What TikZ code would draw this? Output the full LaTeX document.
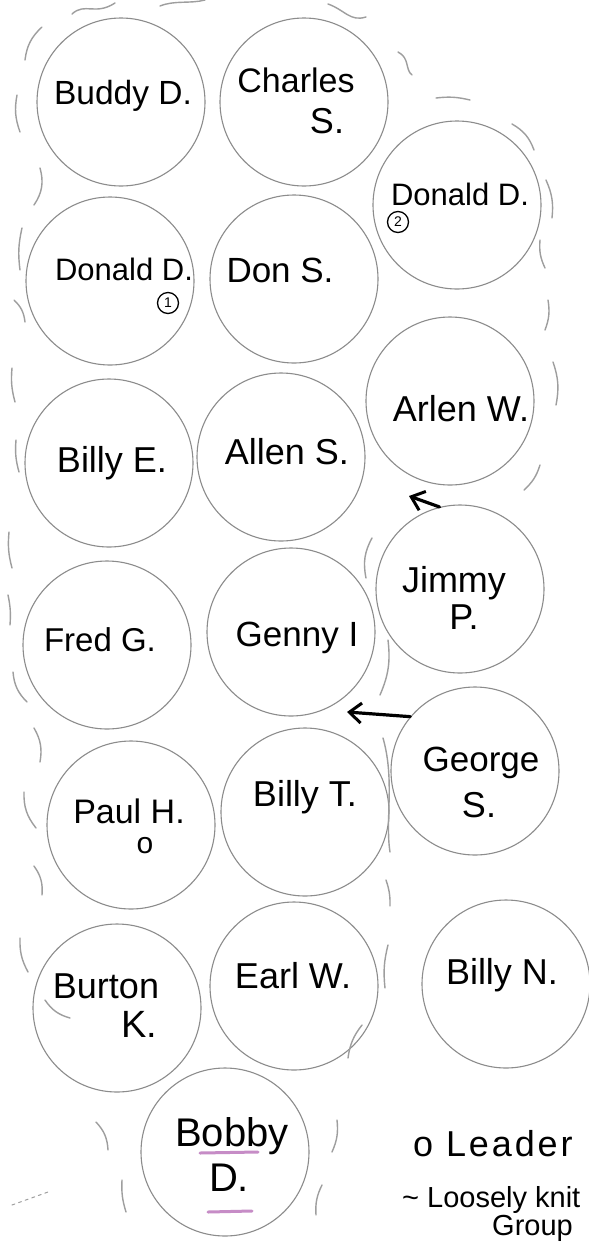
\documentclass[tikz,border=0pt]{standalone}
\usepackage{fontspec}
\setmainfont{Liberation Sans}
\usetikzlibrary{arrows.meta}
\begin{document}
\begin{tikzpicture}[x=1pt,y=-1pt,
  member/.style={circle,draw=black!45,line width=1.1pt,minimum size=168pt,inner sep=0pt},
  nm/.style={font=\fontsize{#1}{#1}\selectfont,anchor=base,inner sep=0pt},
  nm/.default=32,
  wave/.style={draw=black!38,line width=1.4pt,line cap=round},
  arr/.style={-{Straight Barb[length=12pt,width=20pt,line width=3pt]},line width=3.2pt,line cap=round},
  num/.style={circle,draw,line width=1.3pt,inner sep=0pt,minimum size=21pt,font=\fontsize{14}{14}\selectfont},
  scrib/.style={draw=violet!45,line width=3pt,line cap=round}]
\fill[white] (0,0) rectangle (589,1243);
\useasboundingbox (0,0) rectangle (589,1243);
\begin{scope}
\clip (0,0) rectangle (589,1243);
% members
\node[member] (buddy)   at (121,102) {};
\node[member] (charles) at (304,102) {};
\node[member] (donaldb) at (457,205) {};
\node[member] (donalda) at (110,281) {};
\node[member] (dons)    at (294,279) {};
\node[member] (arlen)   at (450,401) {};
\node[member] (billye)  at (109,463) {};
\node[member] (allens)  at (281,457) {};
\node[member] (jimmy)   at (460,589) {};
\node[member] (fredg)   at (107,645) {};
\node[member] (genny)   at (291,632) {};
\node[member] (george)  at (475,771) {};
\node[member] (paulh)   at (131,825) {};
\node[member] (billyt)  at (305,812) {};
\node[member] (burton)  at (117,1008) {};
\node[member] (earlw)   at (294,986) {};
\node[member] (billyn)  at (506,984) {};
\node[member] (bobby)   at (225,1152) {};
% names
\node[nm=33.5] (tbuddy) at (123,104) {Buddy D.};
\node[nm=34] (tcharles) at (296,92) {Charles};
\node[nm=36] (tcharless) at (327,133) {S.};
\node[nm=31] (tdonaldb) at (460,205) {Donald D.};
\node[num] (nb) at (398,222) {2};
\node[nm=31] (tdonalda) at (124,280) {Donald D.};
\node[num] (na) at (168,303) {1};
\node[nm=35] (tdons) at (280,282) {Don S.};
\node[nm=36] (tarlen) at (461,421) {Arlen W.};
\node[nm=36] (tbillye) at (112,472) {Billy E.};
\node[nm=36] (tallens) at (287,464) {Allen S.};
\node[nm=36] (tjimmy) at (454,592) {Jimmy};
\node[nm=36] (tjimmyp) at (464,629) {P.};
\node[nm=33] (tfredg) at (100,651) {Fred G.};
\node[nm=35] (tgenny) at (297,646) {Genny I};
\node[nm=35] (tgeorge) at (481,771) {George};
\node[nm=36] (tgeorges) at (479,817) {S.};
\node[nm=34] (tpaulh) at (129,823) {Paul H.};
\node[nm=30] (tpaulo) at (145,853) {o};
\node[nm=36] (tbillyt) at (305,806) {Billy T.};
\node[nm=36] (tburton) at (106,998) {Burton};
\node[nm=38] (tburtonk) at (139,1037) {K.};
\node[nm=36] (tearlw) at (293,988) {Earl W.};
\node[nm=36] (tbillyn) at (502,984) {Billy N.};
\node[nm=40] (tbobby) at (232,1146) {Bobby};
\node[nm=40] (tbobbyd) at (229,1191) {D.};
\draw[scrib] (200,1153) -- (258,1152);
\draw[scrib] (208,1212) -- (252,1211);
% legend
\node[anchor=base west,inner sep=0pt,font={\fontsize{36}{36}\selectfont\addfontfeature{LetterSpace=8}}] (leader) at (413,1156) {o Leader};
\node[font={\fontsize{29}{28}\selectfont\lineskiplimit=-50pt},anchor=north west,align=left,inner sep=0pt] (loose) at (402,1186)
  {\textasciitilde\ Loosely knit\\\hspace*{90pt}Group};
% arrows
\coordinate (tipa) at (409,496);
\draw[arr] (jimmy.104) -- (tipa);
\coordinate (tipb) at (347,712);
\draw[arr] (george.140) -- (tipb);
% loosely knit group marks
\draw[wave] (72,14) .. controls (85,2) and (95,16) .. (115,3);
\draw[wave] (160,6) .. controls (175,0) and (190,4) .. (205,0);
\draw[wave] (328,4) .. controls (345,10) and (350,22) .. (366,17);
\draw[wave] (398,52) .. controls (410,58) and (405,70) .. (412,75);
\draw[wave] (436,98) to[bend left=10] (470,100);
\draw[wave] (512,124) to[bend left=20] (534,150);
\draw[wave] (546,180) to[bend left=15] (552,218);
\draw[wave] (540,240) to[bend right=15] (545,268);
\draw[wave] (548,300) to[bend left=15] (545,330);
\draw[wave] (553,362) to[bend left=15] (556,405);
\draw[wave] (540,465) to[bend left=15] (524,490);
\draw[wave] (372,538) to[bend right=20] (366,578);
\draw[wave] (388,640) to[bend left=15] (380,695);
\draw[wave] (383,738) .. controls (395,780) and (385,820) .. (390,852);
\draw[wave] (386,880) to[bend left=10] (390,906);
\draw[wave] (388,945) to[bend right=10] (385,988);
\draw[wave] (362,1025) to[bend right=15] (348,1058);
\draw[wave] (337,1120) to[bend left=15] (332,1152);
\draw[wave] (322,1185) to[bend right=15] (316,1215);
\draw[wave] (42,27) to[bend right=20] (25,60);
\draw[wave] (17,95) to[bend right=15] (20,132);
\draw[wave] (40,168) to[bend left=25] (34,205);
\draw[wave] (22,228) to[bend right=10] (20,270);
\draw[wave] (14,300) to[bend left=20] (25,322);
\draw[wave] (12,368) to[bend right=10] (15,402);
\draw[wave] (16,440) to[bend right=10] (19,472);
\draw[wave] (9,532) to[bend right=10] (12,568);
\draw[wave] (8,595) to[bend left=8] (10,625);
\draw[wave] (13,672) to[bend right=20] (27,702);
\draw[wave] (34,728) to[bend left=20] (40,762);
\draw[wave] (24,792) to[bend right=20] (36,828);
\draw[wave] (34,866) to[bend left=20] (42,895);
\draw[wave] (20,938) to[bend right=15] (28,972);
\draw[wave] (45,1000) to[bend right=20] (70,1018);
\draw[wave] (96,1122) to[bend left=20] (108,1150);
\draw[wave] (122,1180) to[bend right=10] (126,1212);
\draw[wave,line width=1pt,dash pattern=on 3pt off 4pt] (12,1205) -- (48,1192);
\end{scope}
\end{tikzpicture}
\end{document}
